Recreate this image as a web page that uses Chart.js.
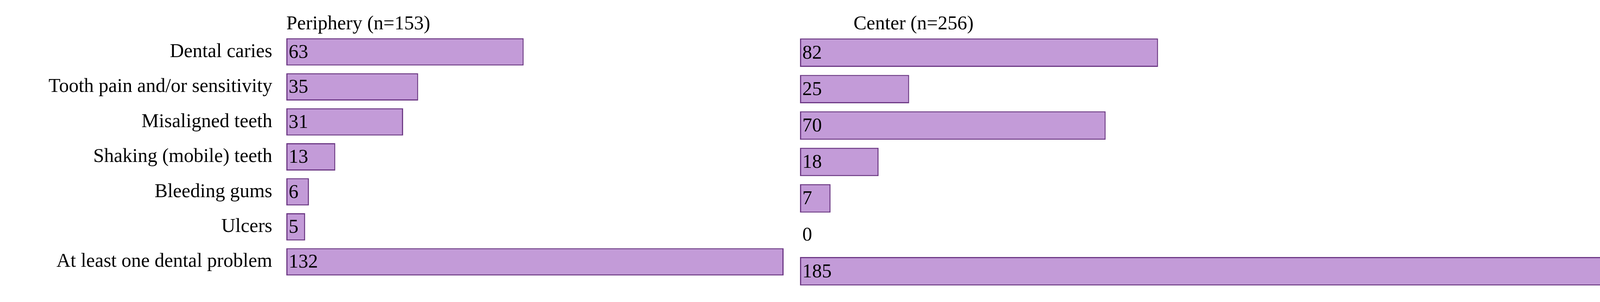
<!DOCTYPE html>
<html><head><meta charset="utf-8">
<script src="https://cdn.jsdelivr.net/npm/chart.js@4"></script>
<style>
html,body{margin:0;padding:0;background:#fff;width:4140px;height:772px;overflow:hidden}
#a{position:absolute;left:0;top:0;width:2020px;height:772px}
#b{position:absolute;left:2020px;top:0;width:2120px;height:772px}
</style></head><body>
<div id="a"><canvas id="c1"></canvas></div>
<div id="b"><canvas id="c2"></canvas></div>
<script>
const categories = ["Dental caries","Tooth pain and/or sensitivity","Misaligned teeth","Shaking (mobile) teeth","Bleeding gums","Ulcers","At least one dental problem"];
const periphery = [63,35,31,13,6,5,132];
const center = [82,25,70,18,7,0,185];
const titles = ["Periphery (n=153)","Center (n=256)"];

const FONT = "'Liberation Serif', 'Times New Roman', serif";
const fill = "#c39bd8", border = "#6e3a86";

function labelPlugin(title, titleOffset){
  return {
    id:'lbl',
    afterDatasetsDraw(chart){
      const ctx = chart.ctx, ca = chart.chartArea;
      ctx.save();
      ctx.fillStyle = '#000';
      ctx.font = "50px " + FONT;
      ctx.textBaseline = 'middle';
      ctx.textAlign = 'left';
      const meta = chart.getDatasetMeta(0);
      const vals = chart.data.datasets[0].data;
      meta.data.forEach((bar,i)=>{
        ctx.fillText(String(vals[i]), ca.left + 6, bar.y + 2);
      });
      ctx.fillText(title, ca.left + titleOffset, 62);
      ctx.restore();
    }
  };
}

function make(id, data, title, showLabels, padLeft, padRight, padBottom, titleOffset){
  const maxV = Math.max(...data);
  return new Chart(document.getElementById(id), {
    type:'bar',
    data:{labels:categories, datasets:[{data:data, backgroundColor:fill, borderColor:border, borderWidth:3, borderSkipped:false, barPercentage:0.78, categoryPercentage:1}]},
    options:{
      indexAxis:'y', responsive:true, maintainAspectRatio:false, animation:false,
      layout:{padding:{top:88,bottom:padBottom,left:padLeft,right:padRight}},
      plugins:{legend:{display:false}, tooltip:{enabled:false}},
      scales:{
        x:{display:false, min:0, max:maxV},
        y:{display:showLabels, grid:{display:false}, border:{display:false},
           ticks:{color:'#000', font:{family:FONT,size:50}, padding:28},
           afterFit: showLabels ? (s=>{s.width=733;}) : undefined}
      }
    },
    plugins:[labelPlugin(title, titleOffset)]
  });
}
make('c1', periphery, titles[0], true, 0, 14, 0, 0);
make('c2', center, titles[1], false, 28, 24, 32, 137);
</script>
</body></html>
